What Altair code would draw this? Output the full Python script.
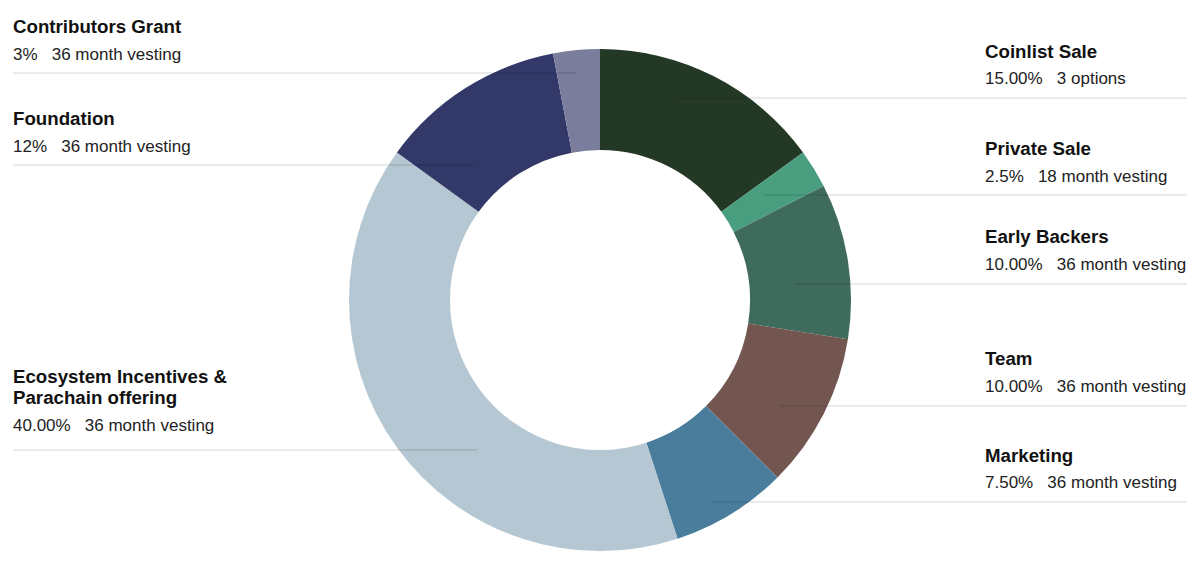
import altair as alt
import pandas as pd

# ---- data ----
categories = ["Coinlist Sale", "Private Sale", "Early Backers", "Team", "Marketing",
              "Ecosystem Incentives & Parachain offering", "Foundation", "Contributors Grant"]
shares = [15.0, 2.5, 10.0, 10.0, 7.5, 40.0, 12.0, 3.0]
pct_labels = ["15.00%", "2.5%", "10.00%", "10.00%", "7.50%", "40.00%", "12%", "3%"]
details = ["3 options", "18 month vesting", "36 month vesting", "36 month vesting",
           "36 month vesting", "36 month vesting", "36 month vesting", "36 month vesting"]
title_lines = [["Coinlist Sale"], ["Private Sale"], ["Early Backers"], ["Team"], ["Marketing"],
               ["Ecosystem Incentives &", "Parachain offering"], ["Foundation"], ["Contributors Grant"]]

# ---- style / layout (page pixels) ----
colors = ["#243826", "#4a9e80", "#3f6b5c", "#735650", "#4a7c9b", "#b5c7d2", "#323868", "#7a7d9c"]
sides = ["R", "R", "R", "R", "R", "L", "L", "L"]
leader_y = [98, 195, 284, 406, 502, 450, 165, 73]
leader_inner_x = [678, 763, 795, 780, 712, 477, 475, 576]
title_base_y = [[58], [155], [243], [365], [462], [383, 404], [125], [33]]
sub_base_y = [84, 182, 270, 392, 488, 431, 152, 60]
LEFT_X, RIGHT_X, RIGHT_END = 13, 985, 1187
M = 8  # page margin
W, H = 1184, 549
CX, CY = 600 - M, 300 - M
R_OUT, R_IN = 251, 150

arc_df = pd.DataFrame({"cat": categories, "share": shares, "idx": list(range(len(categories)))})

donut = alt.Chart(arc_df).mark_arc(outerRadius=R_OUT, innerRadius=R_IN, stroke=None).encode(
    theta=alt.Theta("share:Q", stack=True),
    order=alt.Order("idx:Q"),
    color=alt.Color("cat:N", scale=alt.Scale(domain=categories, range=colors), legend=None),
    x=alt.value(CX), y=alt.value(CY),
)

rows_line, rows_title, rows_sub = [], [], []
NB = "\u00a0\u00a0\u00a0"
for i, cat in enumerate(categories):
    ly = leader_y[i] - M
    tx = (LEFT_X if sides[i] == "L" else RIGHT_X) - M
    if sides[i] == "L":
        rows_line.append({"x": LEFT_X - M, "x2": leader_inner_x[i] - M, "y": ly})
    else:
        rows_line.append({"x": leader_inner_x[i] - M, "x2": RIGHT_END - M, "y": ly})
    rows_sub.append({"x": tx, "y": sub_base_y[i] - M, "t": pct_labels[i] + NB + details[i]})
    for line, by in zip(title_lines[i], title_base_y[i]):
        rows_title.append({"x": tx, "y": by - M, "t": line})

lines_df = pd.DataFrame(rows_line)
title_df = pd.DataFrame(rows_title)
sub_df = pd.DataFrame(rows_sub)

leaders = alt.Chart(lines_df).mark_rule(stroke="#000000", strokeOpacity=0.17, strokeWidth=1).encode(
    x=alt.X("x:Q", scale=None), x2="x2:Q", y=alt.Y("y:Q", scale=None)
)

titles = alt.Chart(title_df).mark_text(
    align="left", baseline="alphabetic", font="Liberation Sans", fontSize=18.7,
    fontWeight="bold", color="#111111"
).encode(x=alt.X("x:Q", scale=None), y=alt.Y("y:Q", scale=None), text="t:N")

subs = alt.Chart(sub_df).mark_text(
    align="left", baseline="alphabetic", font="Liberation Sans", fontSize=17, color="#222222"
).encode(x=alt.X("x:Q", scale=None), y=alt.Y("y:Q", scale=None), text="t:N")

chart = alt.layer(donut, leaders, titles, subs).properties(
    width=W, height=H, autosize=alt.AutoSizeParams(type="none"), padding=0
).configure_view(stroke=None)

chart.save("out.html", embed_options={"renderer": "svg", "actions": False})
